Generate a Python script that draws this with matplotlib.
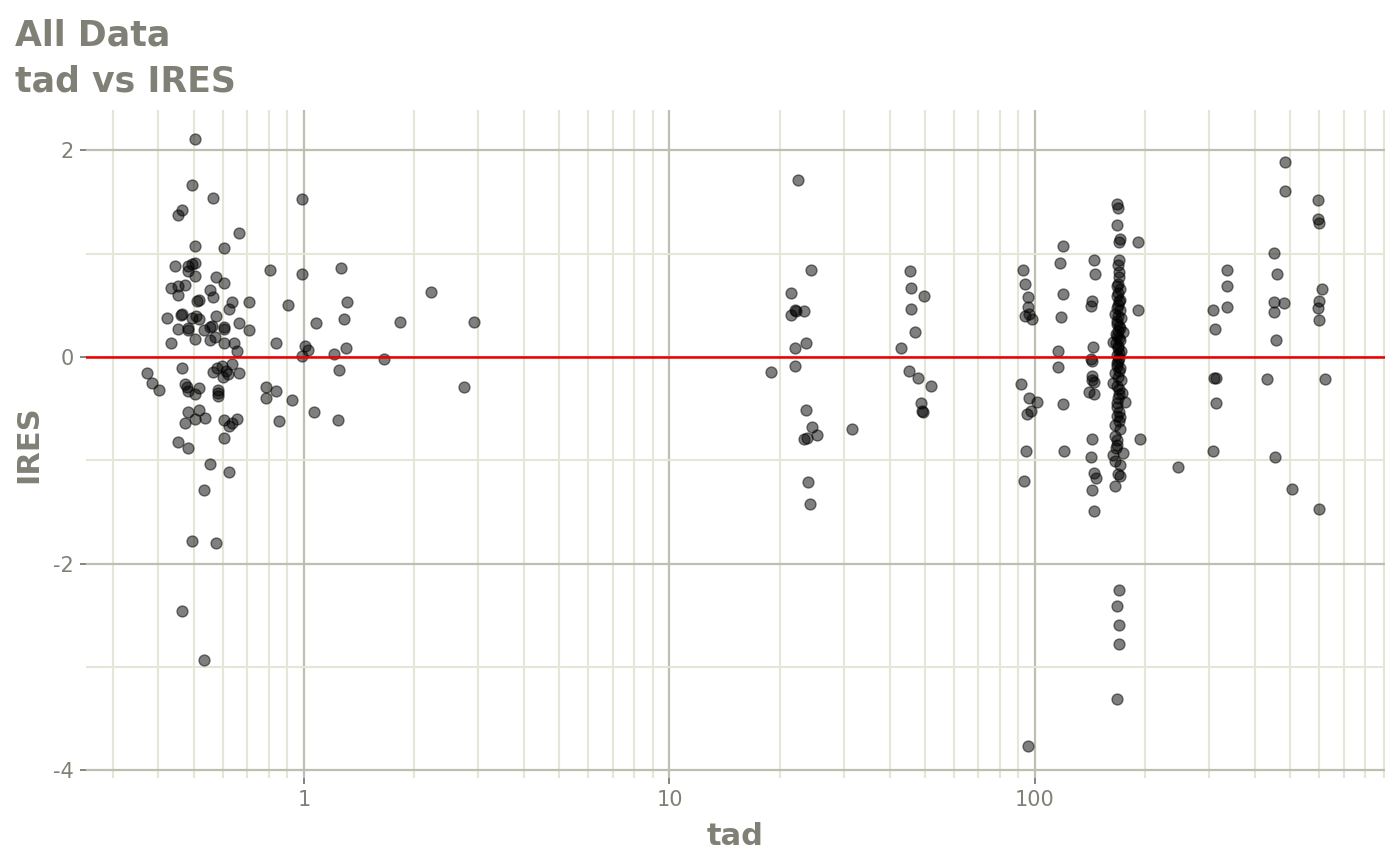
import numpy as np
import matplotlib
matplotlib.use("Agg")
import matplotlib.pyplot as plt
from matplotlib.ticker import FixedLocator, LogLocator, MultipleLocator, NullFormatter

plt.rcParams['font.family'] = ['DejaVu Sans']
plt.rcParams['axes.unicode_minus'] = False

# time after dose ~0.4-3 h
tad_early = [0.503, 0.494, 0.565, 0.986, 0.463, 0.453, 0.665, 0.503, 0.604, 0.443, 0.482, 0.493,
             0.503, 0.482, 0.503, 0.573, 0.604, 0.806, 0.986, 1.26, 2.23, 0.432, 0.453, 0.474,
             0.453, 0.553, 0.565, 0.516, 0.511, 0.635, 0.706, 0.906, 1.31, 0.422, 0.462, 0.463,
             0.493, 0.515, 0.508, 0.573, 0.625, 0.665, 0.706, 0.451, 0.482, 0.482, 0.532, 0.553,
             0.56, 0.604, 0.604, 0.572, 0.504, 0.554, 0.433, 0.604, 0.645, 0.654, 0.837, 1.076,
             1.29, 1.30, 1.006, 1.028, 0.986, 1.83, 2.91, 1.21, 1.66, 1.25, 2.74, 0.373, 0.383,
             0.402, 0.463, 0.472, 0.48, 0.482, 0.505, 0.515, 0.565, 0.58, 0.595, 0.612, 0.60,
             0.618, 0.634, 0.665, 0.583, 0.583, 0.583, 0.787, 0.838, 0.785, 0.927, 1.067, 1.236,
             0.856, 0.482, 0.515, 0.472, 0.505, 0.535, 0.604, 0.625, 0.635, 0.656, 0.604, 0.453,
             0.482, 0.554, 0.625, 0.533, 0.494, 0.573, 0.463, 0.533]
ires_early = [2.11, 1.66, 1.54, 1.53, 1.42, 1.37, 1.20, 1.07, 1.05, 0.88, 0.88, 0.90,
              0.91, 0.83, 0.78, 0.77, 0.72, 0.84, 0.80, 0.86, 0.63, 0.67, 0.69, 0.70,
              0.60, 0.65, 0.58, 0.55, 0.54, 0.53, 0.53, 0.50, 0.53, 0.38, 0.41, 0.42,
              0.38, 0.37, 0.40, 0.40, 0.46, 0.33, 0.26, 0.27, 0.28, 0.26, 0.26, 0.29,
              0.30, 0.29, 0.27, 0.19, 0.17, 0.16, 0.13, 0.13, 0.13, 0.06, 0.13, 0.33,
              0.37, 0.09, 0.11, 0.07, 0.01, 0.34, 0.34, 0.03, -0.02, -0.13, -0.29, -0.16, -0.25,
              -0.32, -0.11, -0.26, -0.29, -0.33, -0.36, -0.30, -0.15, -0.11, -0.09, -0.14, -0.19,
              -0.17, -0.07, -0.16, -0.32, -0.35, -0.38, -0.29, -0.33, -0.40, -0.42, -0.53, -0.61,
              -0.62, -0.53, -0.51, -0.64, -0.60, -0.59, -0.61, -0.67, -0.64, -0.60, -0.78, -0.82,
              -0.88, -1.04, -1.11, -1.29, -1.78, -1.80, -2.46, -2.93]

# ~19-52 h
tad_mid = [22.5, 24.4, 21.5, 22.0, 21.5, 23.4, 22.2, 22.1, 23.7, 19.0, 22.1, 23.7, 24.5, 25.3,
           23.4, 23.8, 31.6, 23.9, 24.2, 45.5, 45.7, 49.7, 45.7, 46.9, 42.9, 45.2, 48.0, 52.1,
           48.8, 49.2, 49.3]
ires_mid = [1.71, 0.845, 0.62, 0.45, 0.41, 0.44, 0.44, 0.087, 0.13, -0.145, -0.087, -0.51, -0.68,
            -0.76, -0.79, -0.78, -0.70, -1.21, -1.42, 0.835, 0.67, 0.59, 0.46, 0.24, 0.084,
            -0.136, -0.20, -0.28, -0.447, -0.52, -0.53]

# ~90-150 h
tad_week = [92.5, 93.9, 95.5, 95.9, 93.9, 96.5, 98.0, 91.7, 96.1, 101.5, 95.3, 97.3, 94.3, 93.3,
            95.7, 119.6, 117.1, 119.0, 117.8, 115.8, 115.8, 119.6, 120.1, 145, 146, 143, 142.5,
            143.9, 142.5, 143, 143.5, 143, 145, 145, 140.7, 143.2, 142.5, 145.4, 147, 143.5, 145.4]
ires_week = [0.84, 0.71, 0.58, 0.48, 0.40, 0.42, 0.37, -0.26, -0.40, -0.44, -0.55, -0.52, -0.91,
             -1.20, -3.77, 1.07, 0.91, 0.61, 0.39, 0.055, -0.10, -0.46, -0.91, 0.94, 0.80, 0.54,
             0.49, 0.10, -0.02, -0.04, -0.18, -0.22, -0.24, -0.36, -0.34, -0.79, -0.97, -1.12,
             -1.17, -1.29, -1.49]

# trough column ~168 h
tad_trough = [167.3, 168.5, 168.0, 170.8, 170.2, 191.3, 170.2, 169.1, 170.2, 170.2, 169.1, 167.3,
              170.8, 191.3, 167.3, 170.2, 169.1, 170.8, 169.1, 167.3, 170.2, 169.1, 168.0, 170.8,
              166.6, 169.1, 170.2, 163.8, 174.4, 169.1, 167.3, 170.2, 169.1, 163.8, 167.3, 170.2,
              172.6, 176.2, 169.1, 167.3, 170.2, 168.0, 170.2, 165.6, 167.3, 163.8, 174.4, 165.6,
              169.1, 170.8, 165.6, 194.0, 168, 171, 167, 170, 168.5, 171.5, 167.5, 170, 168, 171,
              166, 172, 168, 171, 169, 166, 172, 170, 168, 171, 166, 171, 167, 171, 168,
              170.1, 167.3, 169.5, 169.5, 167.6, 246.7]
ires_trough = [1.48, 1.445, 1.28, 1.14, 1.11, 1.11, 0.935, 0.886, 0.82, 0.77, 0.71, 0.69,
               0.66, 0.455, 0.59, 0.545, 0.50, 0.45, 0.40, 0.35, 0.30, 0.25, 0.20, 0.16,
               0.13, 0.09, 0.04, 0.14, 0.24, -0.04, -0.09, -0.14, -0.19, -0.25, -0.28, -0.31,
               -0.35, -0.44, -0.40, -0.48, -0.53, -0.57, -0.62, -0.77, -0.80, -0.95, -0.93, -1.01,
               -1.13, -1.15, -1.25, -0.79, 0.32, 0.28, 0.22, 0.18, 0.11, 0.06, 0.02, -0.01, -0.06,
               -0.11, 0.42, 0.38, 0.47, 0.55, 0.62, -0.16, -0.22, -0.36, -0.45, -0.58, -0.66,
               -0.70, -0.88, -1.05, -0.85, -2.26, -2.41, -2.59, -2.78, -3.31, -1.07]

# ~300-620 h
tad_late = [482, 482, 596, 596, 598, 452, 336, 336, 336, 307.6, 311, 458, 452, 480, 452, 456,
            608, 600, 596, 598, 308, 312, 430.5, 621, 312, 307, 454, 505, 598]
ires_late = [1.89, 1.61, 1.52, 1.33, 1.30, 1.01, 0.845, 0.69, 0.48, 0.45, 0.27, 0.80, 0.53, 0.52,
             0.43, 0.165, 0.66, 0.54, 0.47, 0.36, -0.20, -0.20, -0.21, -0.21, -0.45, -0.91,
             -0.97, -1.28, -1.47]

tad = tad_early + tad_mid + tad_week + tad_trough + tad_late
ires = ires_early + ires_mid + ires_week + ires_trough + ires_late

x_ticks = [1, 10, 100]
x_labels = ["1", "10", "100"]
y_ticks = [-4, -2, 0, 2]

txt_col = "#808076"

fig = plt.figure(figsize=(14, 8.65), dpi=100)
ax = fig.add_axes([0.0614, 0.1006, 0.9279, 0.7723])

ax.scatter(tad, ires, s=62, c="black", alpha=0.5, edgecolors="black", linewidths=1.0, zorder=3)
ax.axhline(0, color="#ee0000", lw=1.8, zorder=4)

ax.set_xscale("log")
ax.set_xlim(0.2533, 907)
ax.set_ylim(-4.075, 2.39)

ax.xaxis.set_major_locator(FixedLocator(x_ticks))
ax.set_xticklabels(x_labels)
ax.xaxis.set_minor_locator(LogLocator(base=10, subs=np.arange(2, 10)))
ax.xaxis.set_minor_formatter(NullFormatter())
ax.yaxis.set_major_locator(FixedLocator(y_ticks))
ax.set_yticklabels([str(v) for v in y_ticks])
ax.yaxis.set_minor_locator(MultipleLocator(1))

ax.grid(which="minor", color="#e6e6d7", lw=1.5)
ax.grid(which="major", color="#bebeb1", lw=1.6)
ax.set_axisbelow(True)
for s in ax.spines.values():
    s.set_visible(False)

ax.tick_params(which="major", length=4, width=1.3, color="#7a7a7a",
               labelcolor=txt_col, labelsize=15, pad=5)
ax.tick_params(which="minor", length=0)

ax.set_xlabel("tad", fontsize=22, fontweight="bold", color=txt_col)
ax.set_ylabel("IRES", fontsize=22, fontweight="bold", color=txt_col)
ax.xaxis.set_label_coords(0.5, -0.066)
ax.yaxis.set_label_coords(-0.033, 0.5)

fig.text(15 / 1400, 1 - 46 / 865, "All Data", fontsize=25, fontweight="bold", color=txt_col,
         va="baseline", ha="left")
fig.text(15 / 1400, 1 - 92 / 865, "tad vs IRES", fontsize=25, fontweight="bold", color=txt_col,
         va="baseline", ha="left")

fig.savefig("out.png", dpi=100, facecolor="white")
